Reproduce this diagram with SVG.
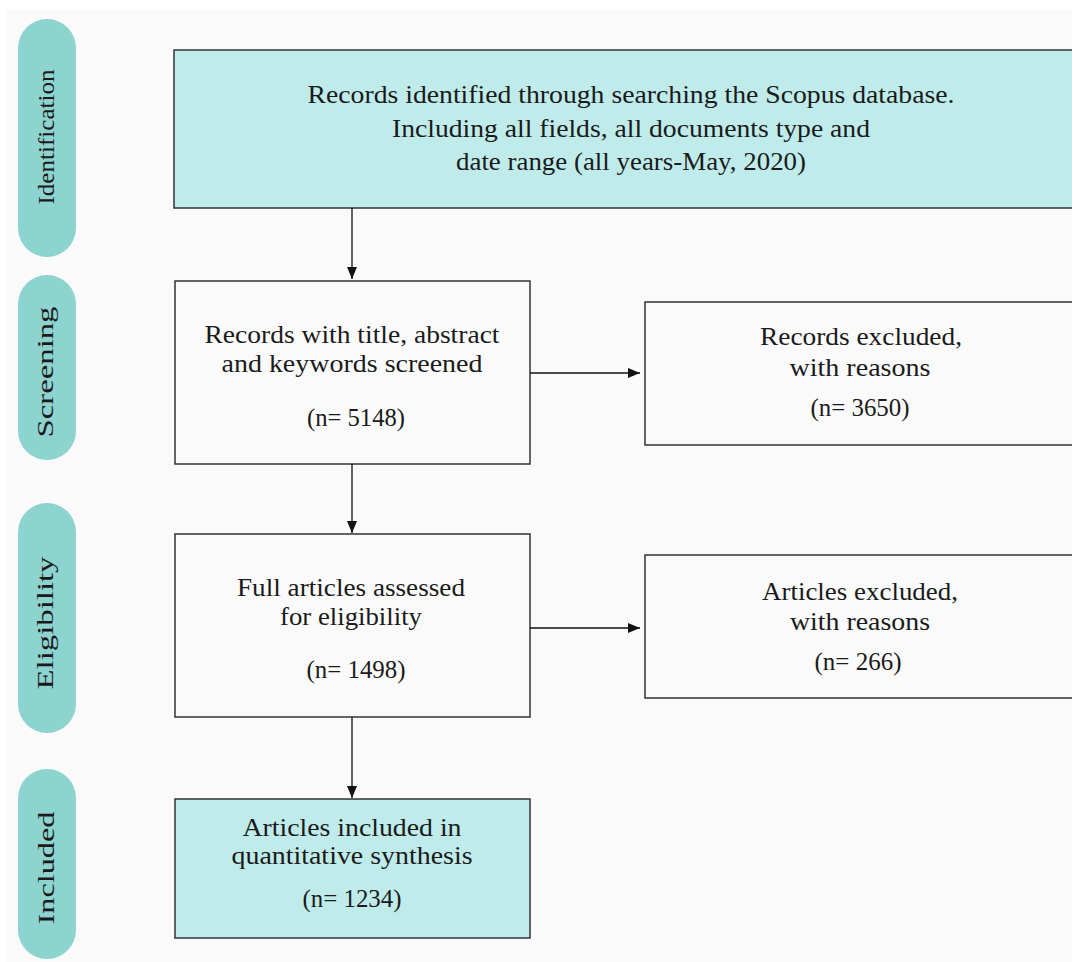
<svg xmlns="http://www.w3.org/2000/svg" width="1072" height="962" viewBox="0 0 1072 962">
<defs>
<marker id="ah" markerWidth="12" markerHeight="10" refX="12" refY="5" orient="auto" markerUnits="userSpaceOnUse">
<path d="M0,0 L12,5 L0,10 Z" fill="#111"/>
</marker>
<style>
.pill{fill:#8dd3cf}
.side{font-family:"Liberation Serif",serif;font-size:23px;fill:#1a1a1a;text-anchor:middle}
.box{stroke:#333;stroke-width:1.5}
.teal{fill:#bfeceb}
.plain{fill:#fafafa}
.t{font-family:"Liberation Serif",serif;font-size:24.5px;fill:#1a1a1a;text-anchor:middle}
.c{stroke:#111;stroke-width:1.3;fill:none}
</style>
</defs>
<rect x="0" y="0" width="1072" height="962" fill="#ffffff"/>
<rect x="7" y="9" width="1065" height="953" fill="#fafafa"/>

<g id="stage-identification">
<rect class="pill" x="18" y="19" width="58" height="238" rx="29"/>
<text class="side" transform="translate(54,137) rotate(-90)" textLength="135" lengthAdjust="spacingAndGlyphs">Identification</text>
</g>
<g id="stage-screening">
<rect class="pill" x="18" y="275" width="58" height="185" rx="29"/>
<text class="side" transform="translate(53,372) rotate(-90)" textLength="131" lengthAdjust="spacingAndGlyphs">Screening</text>
</g>
<g id="stage-eligibility">
<rect class="pill" x="18" y="503" width="58" height="230" rx="29"/>
<text class="side" transform="translate(53,623) rotate(-90)" textLength="133" lengthAdjust="spacingAndGlyphs">Eligibility</text>
</g>
<g id="stage-included">
<rect class="pill" x="18" y="769" width="58" height="190" rx="29"/>
<text class="side" transform="translate(54,868) rotate(-90)" textLength="113" lengthAdjust="spacingAndGlyphs">Included</text>
</g>

<g id="identified">
<rect class="box teal" x="174" y="50" width="905" height="158"/>
<text class="t" x="631" y="103" textLength="647" lengthAdjust="spacingAndGlyphs">Records identified through searching the Scopus database.</text>
<text class="t" x="631" y="137" textLength="478" lengthAdjust="spacingAndGlyphs">Including all fields, all documents type and</text>
<text class="t" x="631" y="170" textLength="350" lengthAdjust="spacingAndGlyphs">date range (all years-May, 2020)</text>
</g>

<g id="screened">
<rect class="box plain" x="175" y="281" width="355" height="183"/>
<text class="t" x="352" y="343" textLength="295" lengthAdjust="spacingAndGlyphs">Records with title, abstract</text>
<text class="t" x="352" y="372" textLength="261" lengthAdjust="spacingAndGlyphs">and keywords screened</text>
<text class="t" x="356" y="426" textLength="98" lengthAdjust="spacingAndGlyphs">(n= 5148)</text>
</g>

<g id="records-excluded">
<rect class="box plain" x="645" y="302" width="435" height="143"/>
<text class="t" x="861" y="345" textLength="202" lengthAdjust="spacingAndGlyphs">Records excluded,</text>
<text class="t" x="860" y="376" textLength="141" lengthAdjust="spacingAndGlyphs">with reasons</text>
<text class="t" x="860" y="416" textLength="99" lengthAdjust="spacingAndGlyphs">(n= 3650)</text>
</g>

<g id="assessed">
<rect class="box plain" x="175" y="534" width="355" height="183"/>
<text class="t" x="351" y="596" textLength="228" lengthAdjust="spacingAndGlyphs">Full articles assessed</text>
<text class="t" x="351" y="625" textLength="142" lengthAdjust="spacingAndGlyphs">for eligibility</text>
<text class="t" x="356" y="678" textLength="99" lengthAdjust="spacingAndGlyphs">(n= 1498)</text>
</g>

<g id="articles-excluded">
<rect class="box plain" x="645" y="555" width="435" height="143"/>
<text class="t" x="860" y="600" textLength="196" lengthAdjust="spacingAndGlyphs">Articles excluded,</text>
<text class="t" x="860" y="630" textLength="140" lengthAdjust="spacingAndGlyphs">with reasons</text>
<text class="t" x="858" y="670" textLength="87" lengthAdjust="spacingAndGlyphs">(n= 266)</text>
</g>

<g id="included">
<rect class="box teal" x="175" y="799" width="355" height="139"/>
<text class="t" x="352" y="836" textLength="219" lengthAdjust="spacingAndGlyphs">Articles included in</text>
<text class="t" x="352" y="864" textLength="241" lengthAdjust="spacingAndGlyphs">quantitative synthesis</text>
<text class="t" x="352" y="907" textLength="99" lengthAdjust="spacingAndGlyphs">(n= 1234)</text>
</g>

<g id="connectors">
<line class="c" x1="352" y1="208" x2="352" y2="279" marker-end="url(#ah)"/>
<line class="c" x1="352" y1="464" x2="352" y2="533" marker-end="url(#ah)"/>
<line class="c" x1="352" y1="717" x2="352" y2="798" marker-end="url(#ah)"/>
<line class="c" x1="530" y1="373" x2="640" y2="373" marker-end="url(#ah)"/>
<line class="c" x1="530" y1="628" x2="640" y2="628" marker-end="url(#ah)"/>
</g>
</svg>
